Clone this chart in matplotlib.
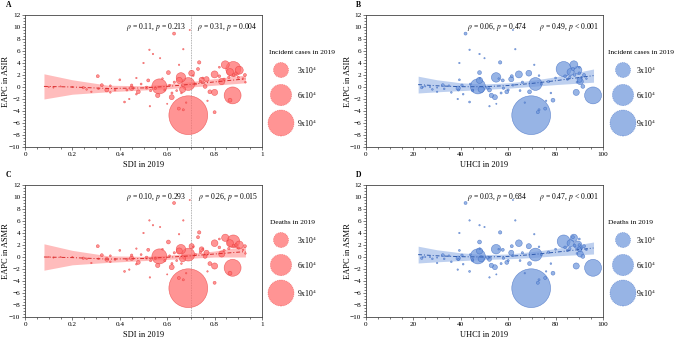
import matplotlib
matplotlib.use("Agg")
import matplotlib.pyplot as plt
import numpy as np

plt.rcParams['font.family'] = ['Liberation Serif', 'DejaVu Serif']
plt.rcParams['mathtext.fontset'] = 'stix'

# ---- country level data ----
sdi = [0.689, 0.876, 0.879, 0.845, 0.904, 0.865, 0.567, 0.689, 0.658, 0.651,
       0.80, 0.83, 0.80, 0.766, 0.735, 0.665, 0.619, 0.56, 0.865, 0.80,
       0.629, 0.605, 0.52, 0.478, 0.45, 0.345, 0.324, 0.307, 0.513, 0.649,
       0.668, 0.928, 0.703, 0.73, 0.745, 0.76, 0.78, 0.246, 0.42, 0.40,
       0.525, 0.54, 0.668, 0.695, 0.50, 0.57, 0.527, 0.44, 0.38, 0.36,
       0.28, 0.26, 0.20, 0.15, 0.10, 0.12, 0.45, 0.43, 0.47, 0.55,
       0.59, 0.61, 0.63, 0.64, 0.72, 0.74, 0.75, 0.82, 0.84, 0.86,
       0.88, 0.90, 0.92, 0.89, 0.71, 0.68, 0.60, 0.62, 0.53, 0.49,
       0.36, 0.31, 0.77, 0.65, 0.58, 0.47, 0.66, 0.82, 0.93]
uhci = [69.7, 95.8, 83.4, 87.7, 89.4, 86.3, 47.2, 71.5, 54.9, 47.9,
        64.5, 90.4, 88.7, 61.3, 56.6, 48.6, 54.4, 52.9, 78.9, 72.5,
        42.0, 47.9, 57.7, 59.4, 38.9, 52.1, 32.4, 61.5, 51.4, 75.6,
        73.0, 92.0, 68.7, 87.3, 90.1, 91.5, 69.0, 23.5, 43.7, 39.4,
        43.7, 47.9, 63.0, 62.0, 39.4, 50.0, 52.1, 38.7, 45.0, 36.0,
        30.0, 28.0, 27.0, 25.0, 24.0, 30.0, 40.5, 39.0, 41.0, 58.0,
        60.0, 62.0, 66.0, 65.0, 74.0, 77.0, 80.0, 84.0, 85.0, 86.0,
        88.0, 91.0, 93.0, 90.0, 73.0, 67.0, 55.0, 57.0, 45.0, 44.0,
        35.0, 33.0, 76.0, 71.0, 56.0, 48.0, 78.0, 90.0, 89.0]
eapc_asir = [-4.7, -1.4, 3.0, 3.7, 2.8, 2.5, 0.1, 0.5, 1.6, 1.1,
             2.1, 0.9, -0.9, 1.3, 4.1, -0.4, -1.7, -1.4, -2.2, -4.2,
             8.9, 2.4, 1.1, -0.8, -0.2, -0.5, 0.3, 1.8, -0.1, -3.6,
             -3.8, 2.0, 2.3, 3.0, 1.2, 0.1, -0.8, -0.1, -2.5, 1.2,
             6.2, 5.5, 6.3, 9.5, 4.0, 4.8, -3.2, -2.0, -0.5, -0.9,
             -0.8, -0.4, 0.0, 0.1, 0.0, -0.1, 0.3, -0.5, -1.2, -0.2,
             -0.5, 0.3, 0.8, -0.6, 0.5, 0.9, 1.5, 1.8, 1.3, 1.6,
             2.0, 1.6, 1.4, 2.3, 1.9, -2.6, -2.8, -1.0, -0.6, 0.5,
             0.2, -0.3, -2.3, 3.7, 1.4, 1.5, -1.0, 3.3, 0.8]
incident_cases = [200000, 38000, 30000, 8500, 8500, 6500, 30000, 22000, 12000, 5000,
                  6500, 5000, 5000, 3500, 1500, 5000, 3300, 2500, 2000, 1200,
                  1200, 2000, 1200, 2000, 2500, 2000, 1200, 1200, 1200, 1200,
                  600, 1200, 4500, 1200, 3300, 2000, 2000, 800, 500, 500,
                  300, 300, 300, 200, 300, 250, 300, 300, 500, 400,
                  300, 400, 250, 200, 200, 200, 800, 600, 400, 800,
                  600, 500, 700, 500, 600, 800, 500, 1000, 700, 800,
                  1000, 600, 400, 900, 400, 300, 200, 600, 700, 500,
                  500, 400, 300, 300, 400, 300, 400, 500, 400]
eapc_asmr = [-5.2, -1.8, 2.6, 3.2, 2.0, 2.3, 0.1, 0.4, 1.3, 1.0,
             2.3, 0.5, -1.5, 0.7, 4.1, -0.3, -1.7, -1.4, -2.7, -4.3,
             9.0, 2.5, 1.2, -0.9, -0.2, -0.4, 0.3, 1.8, -0.1, -3.5,
             -3.8, 1.8, 1.8, 3.3, 1.3, 0.1, -1.1, -0.2, -2.4, 1.1,
             6.1, 5.3, 6.1, 9.5, 4.0, 5.0, -3.4, -2.1, -0.4, -0.8,
             -1.0, -0.3, 0.0, 0.0, 0.0, -0.1, 0.3, -0.4, -1.2, -0.2,
             -0.6, 0.2, 0.7, -0.6, 0.4, 0.8, 1.3, 1.6, 1.1, 1.4,
             1.9, 1.5, 1.2, 2.0, 1.7, -2.7, -2.9, -1.1, -0.6, 0.4,
             0.2, -0.3, -2.4, 3.8, 1.3, 1.4, -1.1, 3.0, 0.6]
deaths = [200000, 38000, 22000, 7000, 8500, 6500, 30000, 22000, 12000, 5000,
          6000, 5000, 5000, 3500, 1500, 5000, 3300, 2500, 2000, 1200,
          1200, 2000, 1200, 2000, 2500, 2000, 1200, 1200, 1200, 1200,
          600, 1200, 3500, 1200, 3000, 2000, 2000, 800, 500, 500,
          300, 300, 300, 200, 300, 250, 300, 300, 500, 400,
          300, 400, 250, 200, 200, 200, 800, 600, 400, 800,
          600, 500, 700, 500, 600, 800, 500, 1000, 700, 800,
          1000, 600, 400, 900, 400, 300, 200, 600, 700, 500,
          500, 400, 300, 300, 400, 300, 400, 500, 400]

# ---- fitted curves and 95% bands ----
fit_sdi_x = [0.08, 0.2, 0.35, 0.5, 0.6, 0.7, 0.8, 0.93]
fitA_lo = [-2.0, -1.2, -0.8, -0.5, -0.3, 0.0, 0.3, 0.7]
fitA_hi = [2.2, 1.2, 0.3, 0.2, 0.5, 0.9, 1.4, 2.0]
fitC_lo = [-2.2, -1.3, -0.9, -0.6, -0.4, -0.2, 0.0, 0.0]
fitC_hi = [2.2, 1.1, 0.2, 0.1, 0.3, 0.6, 1.0, 1.8]
fit_uhci_x = [22, 30, 40, 50, 60, 70, 80, 96]
fitB_lo = [-1.0, -0.8, -0.6, -0.4, -0.2, 0.1, 0.4, 0.8]
fitB_hi = [1.8, 1.2, 0.7, 0.5, 0.7, 1.1, 1.7, 3.0]
fitD_lo = [-1.0, -0.8, -0.6, -0.4, -0.3, -0.1, 0.2, 0.5]
fitD_hi = [1.8, 1.2, 0.7, 0.4, 0.5, 0.9, 1.4, 2.5]

legend_values = [30000, 60000, 90000]
legend_labels = [r'3x10$^4$', r'6x10$^4$', r'9x10$^4$']
sdi_ticks = [0, 0.2, 0.4, 0.6, 0.8, 1]
sdi_ticklabels = ['0', '0.2', '0.4', '0.6', '0.8', '1']
uhci_ticks = [0, 20, 40, 60, 80, 100]
y_ticks = list(range(-10, 13, 2))

RED_FILL = '#ff6b6b'
RED_EDGE = '#e83a3a'
RED_LINE = '#d92b2b'
BLUE_FILL = '#6f97dc'
BLUE_EDGE = '#3a68c0'
BLUE_LINE = '#2f5aad'

W, H = 676, 341
fig = plt.figure(figsize=(W / 100, H / 100), dpi=100)
SCALE = 117.0 / 30000.0  # points^2 per case


def px_axes(l, t, r, b):
    return fig.add_axes([l / W, 1 - b / H, (r - l) / W, (b - t) / H])


def draw_panel(rect, x, y, size, fill, edge, line, fx, lo, hi, xlim, xticks,
               xticklabels, xlabel, ylabel, txt1, txt2, tx1, tx2, vline):
    l, t, r, b = rect
    ax = px_axes(*rect)
    ax.fill_between(fx, lo, hi, color=fill, alpha=0.45, lw=0, zorder=1)
    mid = [(a + c) / 2 for a, c in zip(lo, hi)]
    ax.plot(fx, mid, color=line, lw=0.7, ls=(0, (4, 2, 1, 2)), zorder=4)
    s = np.array(size) * SCALE
    order = np.argsort(-s)
    ax.scatter(np.array(x)[order], np.array(y)[order], s=s[order], c=fill,
               alpha=0.72, edgecolors=edge, linewidths=0.4, zorder=3)
    if vline is not None:
        ax.axvline(vline, color='#999999', lw=0.6, ls=(0, (1, 1)), zorder=2)
    ax.set_xlim(*xlim)
    ax.set_ylim(-10, 12)
    ax.set_xticks(xticks)
    ax.set_xticklabels(xticklabels)
    ax.set_yticks(y_ticks)
    ax.minorticks_on()
    ax.tick_params(which='both', direction='out', labelsize=5.2, width=0.5,
                   color='#444444', pad=1)
    ax.tick_params(which='major', length=2.5)
    ax.tick_params(which='minor', length=1.5)
    for sp in ax.spines.values():
        sp.set_linewidth(0.6)
        sp.set_color('#444444')
    ax.set_xlabel(xlabel, fontsize=6)
    ax.set_ylabel(ylabel, fontsize=6)
    ax.xaxis.set_label_coords(0.5, -14.0 / (b - t))
    ax.yaxis.set_label_coords(-14.5 / (r - l), 0.5)
    ax.text(tx1, 10, txt1, fontsize=5.5, ha='center', va='center', zorder=5)
    ax.text(tx2, 10, txt2, fontsize=5.5, ha='center', va='center', zorder=5)
    return ax


def draw_legend(title, title_x, title_y, cx, cys, lab_x, fill, edge):
    fig.text(title_x / W, 1 - title_y / H, title, fontsize=5.3, ha='center',
             va='center')
    lax = fig.add_axes([0, 0, 1, 1], facecolor='none')
    lax.set_axis_off()
    lax.set_xlim(0, W)
    lax.set_ylim(H, 0)
    for v, cy, lab in zip(legend_values, cys, legend_labels):
        lax.scatter([cx], [cy], s=v * SCALE, c=fill, alpha=0.72,
                    edgecolors=edge, linewidths=0.5, linestyle=':')
        lax.text(lab_x, cy, lab, fontsize=5.5, ha='left', va='center')


rho_lbl = r'$\rho$'
p_lbl = r'$p$'

draw_panel((25, 15, 262, 147), sdi, eapc_asir, incident_cases, RED_FILL, RED_EDGE,
           RED_LINE, fit_sdi_x, fitA_lo, fitA_hi, (0, 1), sdi_ticks, sdi_ticklabels,
           'SDI in 2019', 'EAPC in ASIR',
           rho_lbl + ' = 0.11, ' + p_lbl + ' = 0.213',
           rho_lbl + ' = 0.31, ' + p_lbl + ' = 0.004', 0.555, 0.855, 0.7)
draw_panel((366, 15, 603, 147), uhci, eapc_asir, incident_cases, BLUE_FILL, BLUE_EDGE,
           BLUE_LINE, fit_uhci_x, fitB_lo, fitB_hi, (0, 100), uhci_ticks,
           [str(t) for t in uhci_ticks], 'UHCI in 2019', 'EAPC in ASIR',
           rho_lbl + ' = 0.06, ' + p_lbl + ' = 0.474',
           rho_lbl + ' = 0.49, ' + p_lbl + ' < 0.001', 55.5, 85.5, None)
draw_panel((25, 185, 262, 317), sdi, eapc_asmr, deaths, RED_FILL, RED_EDGE,
           RED_LINE, fit_sdi_x, fitC_lo, fitC_hi, (0, 1), sdi_ticks, sdi_ticklabels,
           'SDI in 2019', 'EAPC in ASMR',
           rho_lbl + ' = 0.10, ' + p_lbl + ' = 0.293',
           rho_lbl + ' = 0.26, ' + p_lbl + ' = 0.015', 0.555, 0.855, 0.7)
draw_panel((366, 185, 603, 317), uhci, eapc_asmr, deaths, BLUE_FILL, BLUE_EDGE,
           BLUE_LINE, fit_uhci_x, fitD_lo, fitD_hi, (0, 100), uhci_ticks,
           [str(t) for t in uhci_ticks], 'UHCI in 2019', 'EAPC in ASMR',
           rho_lbl + ' = 0.03, ' + p_lbl + ' = 0.684',
           rho_lbl + ' = 0.47, ' + p_lbl + ' < 0.001', 55.5, 85.5, None)

draw_legend('Incident cases in 2019', 302, 52, 281, [70, 95, 123], 297,
            RED_FILL, RED_EDGE)
draw_legend('Incident cases in 2019', 641, 52, 623, [70, 95, 123], 636,
            BLUE_FILL, BLUE_EDGE)
draw_legend('Deaths in 2019', 292, 222, 281, [240, 265, 293], 297,
            RED_FILL, RED_EDGE)
draw_legend('Deaths in 2019', 631, 222, 623, [240, 265, 293], 636,
            BLUE_FILL, BLUE_EDGE)

for lab, x, y in [('A', 6, 5), ('B', 356, 5), ('C', 6, 175), ('D', 356, 175)]:
    fig.text(x / W, 1 - y / H, lab, fontsize=5.5, fontweight='bold',
             ha='left', va='center')

fig.savefig('out.png', dpi=100)
